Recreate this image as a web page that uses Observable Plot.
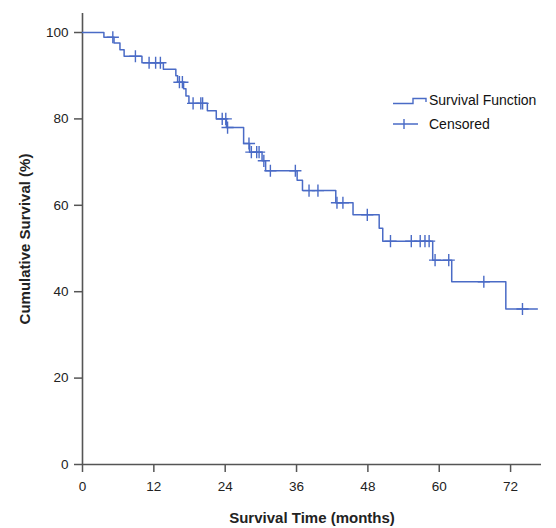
<!DOCTYPE html>
<html>
<head>
<meta charset="utf-8">
<script src="https://cdn.jsdelivr.net/npm/d3@7"></script>
<script src="https://cdn.jsdelivr.net/npm/@observablehq/plot@0.6"></script>
<style>
  html, body { margin: 0; padding: 0; background: #fff; }
  #wrap { position: relative; width: 556px; height: 528px; font-family: "Liberation Sans", Arial, sans-serif; }
  #wrap svg.plot text { fill: #222; }
  #wrap g[aria-label="x-axis label"] text, #wrap g[aria-label="y-axis label"] text { font-weight: bold; font-size: 15px; }
  #legend { position: absolute; left: 392px; top: 90px; font-size: 14px; color: #111; line-height: 1; }
  #legend .item { display: flex; align-items: center; height: 20px; margin-bottom: 4px; }
  #legend svg { margin-right: 1px; }
</style>
</head>
<body>
<div id="wrap"></div>
<script>
// Event (death) times in months and the survival level (%) after each step
const eventTimes  = [3.6, 5.3, 6.3, 7.0, 10.0, 13.6, 15.7, 16.0, 17.0, 17.4, 17.9, 21.0, 22.5, 24.2, 27.1, 28.1, 30.2, 30.8, 36.1, 37.0, 42.6, 45.5, 49.9, 50.5, 58.9, 62.1, 71.2];
const eventLevels = [98.9, 97.6, 96.0, 94.5, 93.0, 91.5, 90.0, 88.5, 87.0, 85.3, 83.6, 81.9, 80.0, 78.0, 74.3, 72.3, 70.3, 68.0, 65.8, 63.4, 60.6, 57.8, 54.7, 51.7, 47.3, 42.3, 36.0];
const lastFollowUp = 76.5;

// Censored observations
const censorTimes  = [5.1, 8.9, 11.2, 12.3, 13.1, 16.3, 16.8, 18.6, 19.9, 20.2, 23.5, 24.1, 24.4, 28.0, 28.4, 29.3, 29.7, 30.5, 31.6, 35.8, 38.1, 39.6, 42.8, 43.8, 47.9, 51.8, 55.3, 56.8, 57.6, 58.3, 59.3, 61.6, 67.5, 74.0];
const censorLevels = [98.9, 94.5, 93.0, 93.0, 93.0, 88.5, 88.5, 83.6, 83.6, 83.6, 80.0, 80.0, 78.0, 74.3, 72.3, 72.3, 72.3, 70.3, 68.0, 68.0, 63.4, 63.4, 60.6, 60.6, 57.8, 51.7, 51.7, 51.7, 51.7, 51.7, 47.3, 47.3, 42.3, 36.0];

const xTicks = [0, 12, 24, 36, 48, 60, 72];
const yTicks = [0, 20, 40, 60, 80, 100];

const lineColor = "#4a6bc6";

const curve = [{t: 0, s: 100}]
  .concat(eventTimes.map((t, i) => ({t, s: eventLevels[i]})))
  .concat([{t: lastFollowUp, s: eventLevels[eventLevels.length - 1]}]);
const censored = censorTimes.map((t, i) => ({t, s: censorLevels[i]}));

const chart = Plot.plot({
  width: 556,
  height: 528,
  marginLeft: 82,
  marginRight: 15,
  marginTop: 13,
  marginBottom: 64,
  style: {fontFamily: "'Liberation Sans', Arial, sans-serif", fontSize: "13.5px", background: "#fff"},
  x: {domain: [0, 77.2]},
  y: {domain: [0, 104.4]},
  marks: [
    Plot.axisX({ticks: xTicks, tickSize: 8, tickPadding: 9, stroke: "#555", strokeWidth: 1.5,
      label: "Survival Time (months)", labelAnchor: "center", labelOffset: 58, labelArrow: "none", tickFormat: d => d}),
    Plot.axisY({ticks: yTicks, tickSize: 8, tickPadding: 6, stroke: "#555", strokeWidth: 1.5,
      label: "Cumulative Survival (%)", labelAnchor: "center", labelOffset: 63, labelArrow: "none", tickFormat: d => d}),
    Plot.ruleX([0], {stroke: "#555", strokeWidth: 1.6}),
    Plot.ruleY([0], {stroke: "#555", strokeWidth: 1.6}),
    Plot.line(curve, {x: "t", y: "s", curve: "step-after", stroke: lineColor, strokeWidth: 1.5}),
    Plot.dot(censored, {x: "t", y: "s", symbol: "plus", r: 4, stroke: lineColor, strokeWidth: 1.4})
  ]
});
chart.classList.add("plot");
const wrap = document.getElementById("wrap");
wrap.appendChild(chart);

const legend = document.createElement("div");
legend.id = "legend";
legend.innerHTML = `
  <div class="item"><svg width="36" height="14"><path d="M1,10.5 H21 V5.5 H34 V9" fill="none" stroke="${lineColor}" stroke-width="1.4"/></svg><span>Survival Function</span></div>
  <div class="item"><svg width="36" height="14"><path d="M1,7 H26 M12,2 V12" fill="none" stroke="${lineColor}" stroke-width="1.4"/></svg><span>Censored</span></div>`;
wrap.appendChild(legend);
</script>
</body>
</html>
